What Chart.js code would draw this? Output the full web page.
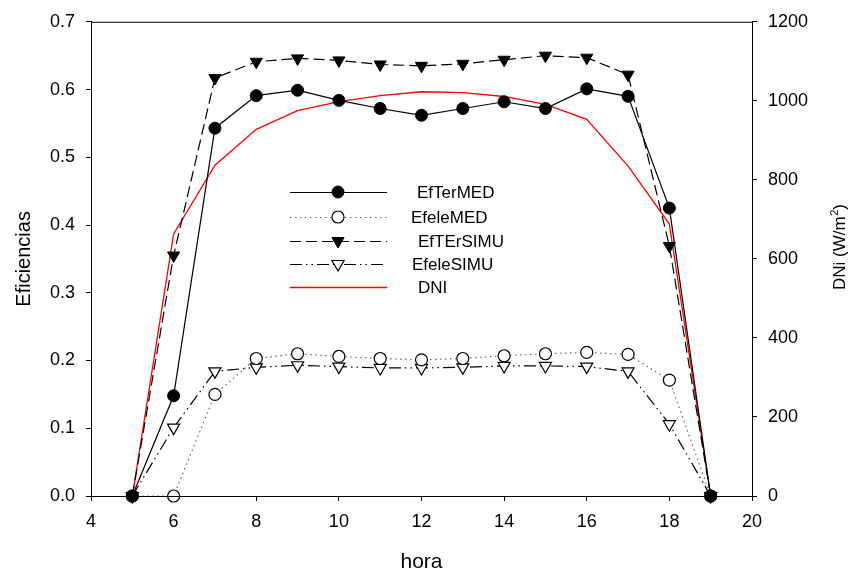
<!DOCTYPE html>
<html>
<head>
<meta charset="utf-8">
<script src="https://cdn.jsdelivr.net/npm/chart.js@4"></script>
<style>
  html, body { margin: 0; padding: 0; background: #fff; }
  #wrap { width: 851px; height: 575px; }
</style>
</head>
<body>
<div id="wrap"><canvas id="chart"></canvas></div>
<script>
// horas del dia
const hora = [5, 6, 7, 8, 9, 10, 11, 12, 13, 14, 15, 16, 17, 18, 19];

const efTerMED  = [0, 0.148, 0.543, 0.591, 0.599, 0.584, 0.572, 0.562, 0.572, 0.582, 0.572, 0.601, 0.590, 0.425, 0];
const efeleMED  = [0, 0, 0.150, 0.203, 0.210, 0.206, 0.203, 0.201, 0.203, 0.207, 0.210, 0.212, 0.209, 0.171, 0];
const efTErSIMU = [0, 0.355, 0.617, 0.641, 0.646, 0.643, 0.637, 0.635, 0.638, 0.644, 0.650, 0.647, 0.622, 0.369, 0];
const efeleSIMU = [0, 0.101, 0.184, 0.190, 0.193, 0.191, 0.189, 0.189, 0.190, 0.192, 0.192, 0.191, 0.184, 0.106, 0];
const dni       = [0, 663, 837, 928, 975, 998, 1013, 1023, 1021, 1011, 991, 953, 835, 688, 0];

const seriesNames = ['EfTerMED', 'EfeleMED', 'EfTErSIMU', 'EfeleSIMU', 'DNI'];

function pts(arr) {
    return hora.map((h, i) => ({x: h, y: arr[i]}));
}

const FONT = 'Liberation Sans, Arial, sans-serif';

// marco completo + titulo del eje derecho (se lee de abajo hacia arriba)
const boxPlugin = {
    id: 'box',
    afterDraw(chart) {
        const ctx = chart.ctx;
        const a = chart.chartArea;
        ctx.save();
        ctx.strokeStyle = '#000';
        ctx.lineWidth = 1;
        ctx.strokeRect(a.left + 0.5, a.top + 0.5, a.right - a.left, a.bottom - a.top);

        ctx.fillStyle = '#000';
        ctx.textBaseline = 'alphabetic';
        ctx.textAlign = 'left';
        ctx.translate(845, 290);
        ctx.rotate(-Math.PI / 2);
        ctx.font = '17px ' + FONT;
        const t1 = 'DNi (W/m';
        ctx.fillText(t1, 0, 0);
        let w = ctx.measureText(t1).width;
        ctx.font = '11px ' + FONT;
        ctx.fillText('2', w + 0.5, -7);
        w += ctx.measureText('2').width + 0.5;
        ctx.font = '17px ' + FONT;
        ctx.fillText(')', w, 0);
        ctx.restore();
    }
};

// leyenda dentro del area de trazado
const legendPlugin = {
    id: 'innerLegend',
    afterDraw(chart) {
        const ctx = chart.ctx;
        const rows = [192, 217, 241, 264, 287];
        const textX = [417, 411, 418, 412, 418];
        chart.data.datasets.forEach((ds, i) => {
            const y = rows[i];
            ctx.save();
            ctx.strokeStyle = ds.borderColor;
            ctx.lineWidth = ds.borderWidth;
            ctx.setLineDash(ds.borderDash || []);
            ctx.beginPath();
            ctx.moveTo(290, y + 0.5);
            ctx.lineTo(387, y + 0.5);
            ctx.stroke();
            ctx.setLineDash([]);
            if (ds.pointRadius > 0) {
                ctx.fillStyle = ds.pointBackgroundColor;
                ctx.strokeStyle = ds.pointBorderColor;
                ctx.lineWidth = ds.pointBorderWidth;
                Chart.helpers.drawPoint(ctx, {
                    pointStyle: ds.pointStyle,
                    rotation: ds.pointRotation || 0,
                    radius: ds.pointRadius,
                    borderWidth: ds.pointBorderWidth
                }, 338, y);
            }
            ctx.fillStyle = '#000';
            ctx.font = '17px ' + FONT;
            ctx.textBaseline = 'middle';
            ctx.fillText(ds.label, textX[i], y + 1);
            ctx.restore();
        });
    }
};

const datasets = [
    {
        label: seriesNames[0], data: pts(efTerMED), yAxisID: 'y',
        borderColor: '#000', borderWidth: 1.2,
        pointStyle: 'circle', pointRadius: 6, pointBackgroundColor: '#000',
        pointBorderColor: '#000', pointBorderWidth: 1
    },
    {
        label: seriesNames[1], data: pts(efeleMED), yAxisID: 'y',
        borderColor: '#666', borderWidth: 1.2, borderDash: [1.5, 3.5],
        pointStyle: 'circle', pointRadius: 6, pointBackgroundColor: '#fff',
        pointBorderColor: '#000', pointBorderWidth: 1.2
    },
    {
        label: seriesNames[2], data: pts(efTErSIMU), yAxisID: 'y',
        borderColor: '#000', borderWidth: 1.2, borderDash: [11, 5],
        pointStyle: 'triangle', pointRotation: 180, pointRadius: 7,
        pointBackgroundColor: '#000', pointBorderColor: '#000', pointBorderWidth: 1
    },
    {
        label: seriesNames[3], data: pts(efeleSIMU), yAxisID: 'y',
        borderColor: '#000', borderWidth: 1.2, borderDash: [12, 4, 1.5, 4, 1.5, 4],
        pointStyle: 'triangle', pointRotation: 180, pointRadius: 7,
        pointBackgroundColor: '#fff', pointBorderColor: '#000', pointBorderWidth: 1.2
    },
    {
        label: seriesNames[4], data: pts(dni), yAxisID: 'y2',
        borderColor: '#ff0000', borderWidth: 1.3,
        pointRadius: 0, pointBackgroundColor: '#ff0000', pointBorderColor: '#ff0000', pointBorderWidth: 0
    }
];

const tickFont = {family: FONT, size: 18};
const axisGrid = {drawOnChartArea: false, drawTicks: true, tickLength: 5, color: '#000'};

new Chart(document.getElementById('chart'), {
    type: 'line',
    data: {datasets: datasets},
    options: {
        responsive: true,
        maintainAspectRatio: false,
        animation: false,
        clip: false,
        layout: {padding: {top: 20, left: 0, right: 0, bottom: 0}},
        plugins: {legend: {display: false}, tooltip: {enabled: false}},
        elements: {line: {tension: 0, fill: false}},
        scales: {
            x: {
                type: 'linear', min: 4, max: 20,
                ticks: {stepSize: 2, color: '#000', font: tickFont, padding: 10},
                grid: axisGrid,
                border: {display: true, color: '#000'},
                title: {display: true, text: 'hora', color: '#000', font: {family: FONT, size: 21}, padding: {top: 0, bottom: 0}},
                afterFit(s) { s.height = 79; }
            },
            y: {
                position: 'left', min: 0, max: 0.7,
                ticks: {stepSize: 0.1, color: '#000', font: tickFont, padding: 11,
                    callback: v => v.toFixed(1)},
                grid: axisGrid,
                border: {display: true, color: '#000'},
                title: {display: true, text: 'Eficiencias', color: '#000', font: {family: FONT, size: 20}, padding: {top: 12, bottom: 0}},
                afterFit(s) { s.width = 91; }
            },
            y2: {
                position: 'right', min: 0, max: 1200,
                ticks: {stepSize: 200, color: '#000', font: tickFont, padding: 11,
                    callback: v => String(v)},
                grid: axisGrid,
                border: {display: true, color: '#000'},
                afterFit(s) { s.width = 99; }
            }
        }
    },
    plugins: [boxPlugin, legendPlugin]
});
</script>
</body>
</html>
